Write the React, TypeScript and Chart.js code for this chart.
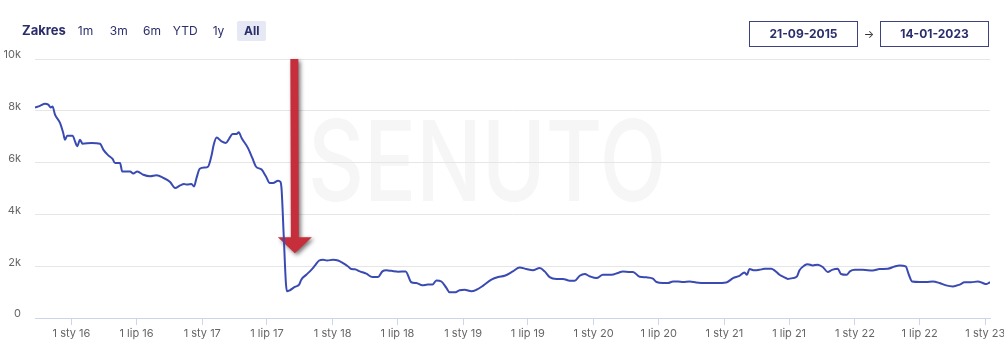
import React, { useEffect, useRef } from "react";
import { Chart, registerables } from "chart.js";

Chart.register(...registerables);

// ---------- DATA ----------
const dates: string[] = [
  "2015-09-21", "2015-10-05", "2015-10-19", "2015-10-28", "2015-11-04", "2015-11-09", "2015-11-16", "2015-11-30",
  "2015-12-09", "2015-12-14", "2015-12-20", "2016-01-04", "2016-01-11", "2016-01-17", "2016-01-25", "2016-02-01",
  "2016-02-26", "2016-03-21", "2016-03-30", "2016-04-13", "2016-04-25", "2016-05-02", "2016-05-16", "2016-05-22",
  "2016-06-13", "2016-06-22", "2016-07-03", "2016-07-20", "2016-08-08", "2016-08-26", "2016-09-14", "2016-10-03",
  "2016-10-17", "2016-10-31", "2016-11-11", "2016-11-20", "2016-12-02", "2016-12-09", "2016-12-16", "2016-12-25",
  "2017-01-08", "2017-01-17", "2017-01-27", "2017-02-02", "2017-02-10", "2017-02-24", "2017-03-08", "2017-03-17",
  "2017-03-27", "2017-04-07", "2017-04-13", "2017-04-21", "2017-05-09", "2017-05-21", "2017-05-31", "2017-06-16",
  "2017-06-28", "2017-07-09", "2017-07-18", "2017-08-01", "2017-08-08", "2017-08-11", "2017-08-17", "2017-08-23",
  "2017-08-26", "2017-09-03", "2017-09-17", "2017-09-29", "2017-10-05", "2017-10-19", "2017-11-02", "2017-11-12",
  "2017-11-24", "2017-12-05", "2017-12-16", "2018-01-02", "2018-01-16", "2018-01-30", "2018-02-13", "2018-02-22",
  "2018-03-04", "2018-03-18", "2018-04-05", "2018-04-22", "2018-05-08", "2018-05-20", "2018-05-31", "2018-06-14",
  "2018-07-03", "2018-07-24", "2018-08-09", "2018-08-23", "2018-09-09", "2018-09-24", "2018-10-07", "2018-10-18",
  "2018-11-01", "2018-11-15", "2018-11-24", "2018-12-08", "2018-12-22", "2019-01-05", "2019-01-24", "2019-02-07",
  "2019-02-26", "2019-03-21", "2019-04-09", "2019-04-27", "2019-05-20", "2019-06-08", "2019-06-27", "2019-07-15",
  "2019-08-03", "2019-08-17", "2019-08-31", "2019-09-19", "2019-10-07", "2019-10-26", "2019-11-09", "2019-11-23",
  "2019-12-07", "2019-12-21", "2020-01-09", "2020-01-27", "2020-02-20", "2020-03-09", "2020-03-23", "2020-04-11",
  "2020-04-20", "2020-05-09", "2020-05-28", "2020-06-15", "2020-06-25", "2020-07-13", "2020-07-27", "2020-08-10",
  "2020-08-24", "2020-09-07", "2020-09-26", "2020-10-14", "2020-11-11", "2020-12-09", "2021-01-06", "2021-01-25",
  "2021-02-12", "2021-02-26", "2021-03-05", "2021-03-12", "2021-03-26", "2021-04-09", "2021-04-23", "2021-05-12",
  "2021-05-21", "2021-06-04", "2021-06-18", "2021-06-27", "2021-07-11", "2021-07-23", "2021-07-30", "2021-08-13",
  "2021-08-22", "2021-09-05", "2021-09-19", "2021-10-03", "2021-10-17", "2021-10-29", "2021-11-14", "2021-11-23",
  "2021-12-09", "2021-12-18", "2022-01-01", "2022-01-23", "2022-02-20", "2022-03-11", "2022-04-03", "2022-04-22",
  "2022-05-06", "2022-05-23", "2022-06-01", "2022-06-10", "2022-07-01", "2022-07-20", "2022-08-07", "2022-08-26",
  "2022-09-13", "2022-10-02", "2022-10-21", "2022-11-04", "2022-11-22", "2022-12-11", "2022-12-25", "2023-01-03",
  "2023-01-14",
];

const values: number[] = [
  8130, 8190, 8270, 8240, 8130, 8170, 7850, 7530,
  7140, 6880, 7040, 7040, 6820, 6630, 6880, 6730,
  6760, 6730, 6500, 6280, 6140, 5980, 5980, 5660,
  5660, 5580, 5660, 5530, 5470, 5510, 5410, 5250,
  5020, 5120, 5170, 5150, 5170, 5080, 5410, 5760,
  5810, 5840, 6280, 6690, 6970, 6820, 6760, 6920,
  7100, 7100, 7170, 6950, 6560, 6180, 5850, 5730,
  5470, 5210, 5210, 5300, 5250, 4950, 3150, 1350,
  1030, 1070, 1200, 1290, 1480, 1670, 1860, 2020,
  2220, 2250, 2220, 2250, 2220, 2120, 1990, 1890,
  1880, 1800, 1710, 1580, 1580, 1800, 1840, 1820,
  1790, 1800, 1380, 1350, 1260, 1290, 1290, 1450,
  1410, 1160, 990, 990, 1070, 1090, 1030, 1090,
  1250, 1480, 1580, 1630, 1800, 1950, 1890, 1840,
  1930, 1800, 1580, 1510, 1510, 1440, 1440, 1630,
  1700, 1610, 1540, 1670, 1670, 1740, 1800, 1780,
  1780, 1590, 1570, 1520, 1390, 1350, 1350, 1410,
  1410, 1390, 1410, 1370, 1350, 1350, 1370, 1540,
  1630, 1760, 1670, 1890, 1840, 1860, 1900, 1900,
  1840, 1670, 1570, 1510, 1540, 1610, 1840, 2030,
  2080, 2030, 2060, 1970, 1780, 1860, 1900, 1700,
  1670, 1800, 1860, 1860, 1830, 1890, 1900, 1990,
  2030, 1990, 1670, 1410, 1390, 1390, 1410, 1350,
  1260, 1220, 1290, 1380, 1380, 1410, 1350, 1310,
  1380,
];

const rangeStart = "2015-09-21";
const rangeEnd = "2023-01-14";

const xTickDates: string[] = [
  "2016-01-01", "2016-07-01", "2017-01-01", "2017-07-01", "2018-01-01", "2018-07-01", "2019-01-01", "2019-07-01",
  "2020-01-01", "2020-07-01", "2021-01-01", "2021-07-01", "2022-01-01", "2022-07-01", "2023-01-01",
];
const xTickLabels: string[] = [
  "1 sty 16", "1 lip 16", "1 sty 17", "1 lip 17", "1 sty 18", "1 lip 18", "1 sty 19", "1 lip 19",
  "1 sty 20", "1 lip 20", "1 sty 21", "1 lip 21", "1 sty 22", "1 lip 22", "1 sty 23",
];
const yTickValues: number[] = [0, 2000, 4000, 6000, 8000, 10000];
const yTickLabels: string[] = ["0", "2k", "4k", "6k", "8k", "10k"];

const rangeTitle = "Zakres";
const rangeButtons: string[] = ["1m", "3m", "6m", "YTD", "1y", "All"];
const selectedButton = "All";
const fromLabel = "21-09-2015";
const toLabel = "14-01-2023";
const watermark = "SENUTO";

// Arrow annotation (data coordinates)
const arrowDate = "2017-09-17";
const arrowFrom = 10000;
const arrowTo = 2500;

// ---------- HELPERS ----------
const t = (s: string) => {
  const [y, m, d] = s.split("-").map(Number);
  return Date.UTC(y, m - 1, d);
};

const FONT = "Inter, 'Noto Sans', sans-serif";
const NAVY = "#2b2e6b";
const LINE = "#3a4ab3";

const bgPlugin = {
  id: "watermark",
  beforeDraw(chart: any) {
    const { ctx } = chart;
    ctx.save();
    ctx.fillStyle = "#f6f6f7";
    ctx.font = `500 112px ${FONT}`;
    ctx.textAlign = "left";
    ctx.textBaseline = "alphabetic";
    ctx.fillText(watermark, 308, 201, 358);
    ctx.restore();
  },
};

const arrowPlugin = {
  id: "arrow",
  beforeDatasetsDraw(chart: any) {
    const { ctx } = chart;
    const xs = chart.scales.x;
    const ys = chart.scales.y;
    const cx = xs.getPixelForValue(t(arrowDate));
    const top = ys.getPixelForValue(arrowFrom);
    const tip = ys.getPixelForValue(arrowTo);
    const shaftHalf = 4;
    const headHalf = 17;
    const headH = 16;
    ctx.save();
    ctx.shadowColor = "rgba(0,0,0,0.55)";
    ctx.shadowBlur = 4;
    ctx.shadowOffsetX = 2;
    ctx.shadowOffsetY = 2;
    ctx.beginPath();
    ctx.moveTo(cx - shaftHalf - 0.5, top);
    ctx.lineTo(cx + shaftHalf - 0.5, top);
    ctx.lineTo(cx + shaftHalf, tip - headH);
    ctx.lineTo(cx + headHalf, tip - headH);
    ctx.lineTo(cx, tip);
    ctx.lineTo(cx - headHalf, tip - headH);
    ctx.lineTo(cx - shaftHalf, tip - headH);
    ctx.closePath();
    ctx.fillStyle = "#c72e3c";
    ctx.fill();
    ctx.restore();
  },
};

export default function App() {
  const ref = useRef<HTMLCanvasElement | null>(null);

  useEffect(() => {
    if (!ref.current) return;
    const data = dates.map((d, i) => ({ x: t(d), y: values[i] }));
    const chart = new Chart(ref.current, {
      type: "line",
      data: {
        datasets: [
          {
            data,
            borderColor: LINE,
            borderWidth: 2,
            pointRadius: 0,
            fill: false,
            cubicInterpolationMode: "monotone",
          },
        ],
      },
      options: {
        animation: false,
        responsive: false,
        devicePixelRatio: 1,
        layout: { padding: { top: 59, right: 14, left: 0, bottom: 0 } },
        plugins: { legend: { display: false }, tooltip: { enabled: false } },
        scales: {
          x: {
            type: "linear",
            min: t(rangeStart),
            max: t(rangeEnd),
            afterBuildTicks: (s: any) => {
              s.ticks = xTickDates.map((d) => ({ value: t(d) }));
            },
            afterFit: (s: any) => {
              s.height = 29;
              s.paddingLeft = 0;
              s.paddingRight = 0;
            },
            ticks: {
              autoSkip: false,
              maxRotation: 0,
              minRotation: 0,
              padding: 2,
              color: "#666666",
              font: { family: FONT, size: 11 },
              callback: (_v: any, i: number) => xTickLabels[i],
            },
            grid: { drawOnChartArea: false, drawTicks: true, tickLength: 7, color: "#ccd6eb" },
            border: { display: true, color: "#ccd6eb", width: 1 },
          },
          y: {
            min: 0,
            max: 10000,
            afterBuildTicks: (s: any) => {
              s.ticks = yTickValues.map((v) => ({ value: v }));
            },
            afterFit: (s: any) => {
              s.width = 35;
              s.paddingTop = 0;
              s.paddingBottom = 0;
            },
            ticks: {
              padding: 14,
              labelOffset: -4,
              color: "#666666",
              font: { family: FONT, size: 11 },
              callback: (_v: any, i: number) => yTickLabels[i],
            },
            grid: {
              drawTicks: false,
              color: (c: any) => (c.tick && c.tick.value === 0 ? "rgba(0,0,0,0)" : "#e6e6e6"),
            },
            border: { display: false },
          },
        },
      },
      plugins: [bgPlugin, arrowPlugin],
    } as any);
    return () => chart.destroy();
  }, []);

  const btnW = 29;
  const btnGap = 4.25;

  return (
    <div style={{ position: "absolute", left: 0, top: 0, width: 1004, height: 347, background: "#fff", fontFamily: FONT }}>
      <canvas ref={ref} width={1004} height={347} style={{ position: "absolute", left: 0, top: 0, width: 1004, height: 347 }} />
      <div style={{ position: "absolute", left: 22, top: 20, height: 20, lineHeight: "20px", fontSize: 13, fontWeight: 700, color: NAVY }}>
        {rangeTitle}
      </div>
      {rangeButtons.map((b, i) => (
        <div
          key={b}
          style={{
            position: "absolute",
            left: 71 + i * (btnW + btnGap),
            top: 21,
            width: btnW,
            height: 20,
            lineHeight: "20px",
            textAlign: "center",
            fontSize: 12,
            fontWeight: b === selectedButton ? 700 : 400,
            color: NAVY,
            background: b === selectedButton ? "#e6e9f4" : "transparent",
            borderRadius: 2,
          }}
        >
          {b}
        </div>
      ))}
      <div style={{ position: "absolute", left: 749, top: 21, width: 109, height: 26, boxSizing: "border-box", border: "1.5px solid #3f4280", color: NAVY, fontSize: 12, fontWeight: 700, lineHeight: "23px", textAlign: "center" }}>
        {fromLabel}
      </div>
      <div style={{ position: "absolute", left: 858, top: 21, width: 22, height: 26, lineHeight: "26px", textAlign: "center", fontSize: 11, color: "#333" }}>
        →
      </div>
      <div style={{ position: "absolute", left: 880, top: 21, width: 109, height: 26, boxSizing: "border-box", border: "1.5px solid #3f4280", color: NAVY, fontSize: 12, fontWeight: 700, lineHeight: "23px", textAlign: "center" }}>
        {toLabel}
      </div>
    </div>
  );
}
